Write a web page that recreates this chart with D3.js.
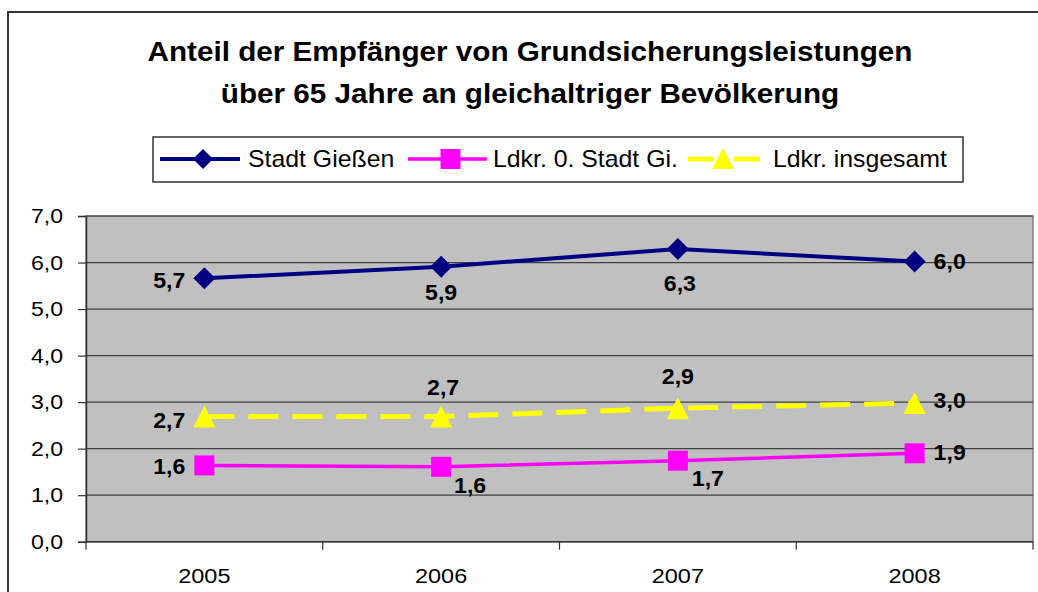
<!DOCTYPE html>
<html>
<head>
<meta charset="utf-8">
<script src="https://cdn.jsdelivr.net/npm/d3@7"></script>
<style>
  html, body { margin: 0; padding: 0; background: #fff; }
  svg { display: block; font-family: Arial, "Liberation Sans", sans-serif; }
</style>
</head>
<body>
<svg id="chart" width="1038" height="592"></svg>
<script>
// Anteil der Empfänger von Grundsicherungsleistungen über 65 Jahre
const years = ["2005", "2006", "2007", "2008"];
const stadtGiessen = [5.66, 5.91, 6.29, 6.02];
const ldkrOhneStadt = [1.64, 1.61, 1.74, 1.90];
const ldkrInsgesamt = [2.69, 2.69, 2.87, 2.98];
const yTicks = [0, 1, 2, 3, 4, 5, 6, 7];
const seriesNames = ["Stadt Gießen", "Ldkr. 0. Stadt Gi.", "Ldkr. insgesamt"];
const titleLines = ["Anteil der Empfänger von Grundsicherungsleistungen",
                    "über 65 Jahre an gleichaltriger Bevölkerung"];

// label placement per point: [dx, dy, anchor]
const placeGiessen = [[-19, 10, "end"], [0, 33, "middle"], [2, 42, "middle"], [19, 7, "start"]];
const placeOhne = [[-19, 9, "end"], [29, 26, "middle"], [30, 25, "middle"], [19, 7, "start"]];
const placeGesamt = [[-19, 11, "end"], [2, -22, "middle"], [0, -24, "middle"], [19, 5, "start"]];

const fmt = v => d3.format(".1f")(v).replace(".", ",");

// widen glyphs horizontally around each text's anchor point
function widen(sel, sx) {
  sel.each(function () {
    const t = d3.select(this);
    const x = +t.attr("x") || 0;
    t.attr("transform", `matrix(${sx},0,0,1,${(1 - sx) * x},0)`);
  });
}

const svg = d3.select("#chart");

// outer chart frame
svg.append("rect")
  .attr("x", 8).attr("y", 12).attr("width", 1040).attr("height", 600)
  .attr("fill", "#fff").attr("stroke", "#333").attr("stroke-width", 2);

// title
svg.append("g").selectAll("text").data(titleLines).join("text")
  .attr("x", 530).attr("y", (d, i) => 61.5 + i * 41.5)
  .attr("text-anchor", "middle")
  .attr("font-size", 28).attr("font-weight", "bold").attr("fill", "#000")
  .text(d => d)
  .call(widen, 1.06);

const plot = { left: 86, right: 1033, top: 216, bottom: 541.7 };

const x = d3.scaleBand().domain(years).range([plot.left, plot.right]).padding(0);
const y = d3.scaleLinear().domain([0, 7]).range([plot.bottom, plot.top]);
const cx = d => x(d) + x.bandwidth() / 2;

// plot area background
svg.append("rect")
  .attr("x", plot.left).attr("y", plot.top)
  .attr("width", plot.right - plot.left).attr("height", plot.bottom - plot.top)
  .attr("fill", "#c0c0c0").attr("stroke", "#808080").attr("stroke-width", 1.5);

// gridlines
svg.append("g").selectAll("line").data(yTicks.slice(1)).join("line")
  .attr("x1", plot.left).attr("x2", plot.right)
  .attr("y1", d => y(d)).attr("y2", d => y(d))
  .attr("stroke", "#404040").attr("stroke-width", 1.2);

// y axis
const yAxis = svg.append("g").attr("transform", `translate(${plot.left},0)`)
  .call(d3.axisLeft(y).tickValues(yTicks).tickFormat(fmt).tickSizeOuter(0).tickSize(8).tickPadding(15));
yAxis.select(".domain").attr("stroke", "#333").attr("stroke-width", 1.5);
yAxis.selectAll(".tick line").attr("stroke", "#333").attr("stroke-width", 1.2);
yAxis.selectAll(".tick text").attr("font-size", 21).attr("fill", "#000")
  .attr("font-family", "Arial, 'Liberation Sans', sans-serif")
  .call(widen, 1.1);

// x axis: ticks between categories
const xAxis = svg.append("g").attr("transform", `translate(0,${plot.bottom})`);
xAxis.append("line").attr("x1", plot.left).attr("x2", plot.right)
  .attr("stroke", "#333").attr("stroke-width", 1.5);
const bounds = years.map(d => x(d)).concat([plot.right]);
xAxis.selectAll("line.tk").data(bounds).join("line").attr("class", "tk")
  .attr("x1", d => d).attr("x2", d => d).attr("y1", 0).attr("y2", 8)
  .attr("stroke", "#333").attr("stroke-width", 1.2);
xAxis.selectAll("text").data(years).join("text")
  .attr("x", d => cx(d)).attr("y", 41.5)
  .attr("text-anchor", "middle").attr("font-size", 21).attr("fill", "#000")
  .text(d => d)
  .call(widen, 1.12);

const line = d3.line().x((d, i) => cx(years[i])).y(d => y(d));

const series = [
  { name: seriesNames[0], values: stadtGiessen, color: "#000080", width: 4, dash: null, marker: "diamond", place: placeGiessen },
  { name: seriesNames[1], values: ldkrOhneStadt, color: "#ff00ff", width: 3.5, dash: null, marker: "square", place: placeOhne },
  { name: seriesNames[2], values: ldkrInsgesamt, color: "#ffff00", width: 5, dash: "30,14", marker: "triangle", place: placeGesamt }
];

const markerPath = {
  diamond: "M0,-11L11,0L0,11L-11,0Z",
  square: "M-10,-10H10V10H-10Z",
  triangle: "M0,-11L11,11H-11Z"
};

series.forEach(s => {
  const g = svg.append("g");
  g.append("path").datum(s.values)
    .attr("d", line).attr("fill", "none")
    .attr("stroke", s.color).attr("stroke-width", s.width)
    .attr("stroke-dasharray", s.dash);
  g.selectAll("path.mk").data(s.values).join("path").attr("class", "mk")
    .attr("transform", (d, i) => `translate(${cx(years[i])},${y(d)})`)
    .attr("d", markerPath[s.marker]).attr("fill", s.color);
  g.selectAll("text").data(s.values).join("text")
    .attr("x", (d, i) => cx(years[i]) + s.place[i][0])
    .attr("y", (d, i) => y(d) + s.place[i][1])
    .attr("text-anchor", (d, i) => s.place[i][2])
    .attr("font-size", 22).attr("font-weight", "bold").attr("fill", "#000")
    .text(d => fmt(d))
    .call(widen, 1.05);
});

// legend
const legend = svg.append("g");
legend.append("rect").attr("x", 153).attr("y", 137).attr("width", 810).attr("height", 45)
  .attr("fill", "#fff").attr("stroke", "#333").attr("stroke-width", 1.5);
const legendItems = [
  { s: series[0], x1: 160, x2: 240, tx: 248 },
  { s: series[1], x1: 408, x2: 487, tx: 493 },
  { s: series[2], x1: 688, x2: 760, tx: 773 }
];
const legendMarker = {
  diamond: "M0,-10L10,0L0,10L-10,0Z",
  square: "M-10,-10H10V10H-10Z",
  triangle: "M0,-11L11,10H-11Z"
};
legendItems.forEach(it => {
  const ly = 159;
  legend.append("line").attr("x1", it.x1).attr("x2", it.x2).attr("y1", ly).attr("y2", ly)
    .attr("stroke", it.s.color).attr("stroke-width", it.s.width)
    .attr("stroke-dasharray", it.s.dash ? "26,20" : null);
  legend.append("path").attr("transform", `translate(${(it.x1 + it.x2) / 2 + (it.s.dash ? -1 : 3)},${ly})`)
    .attr("d", legendMarker[it.s.marker]).attr("fill", it.s.color);
  legend.append("text").attr("x", it.tx).attr("y", ly + 8)
    .attr("font-size", 23).attr("fill", "#000")
    .text(it.s.name)
    .call(widen, 1.08);
});
</script>
</body>
</html>
